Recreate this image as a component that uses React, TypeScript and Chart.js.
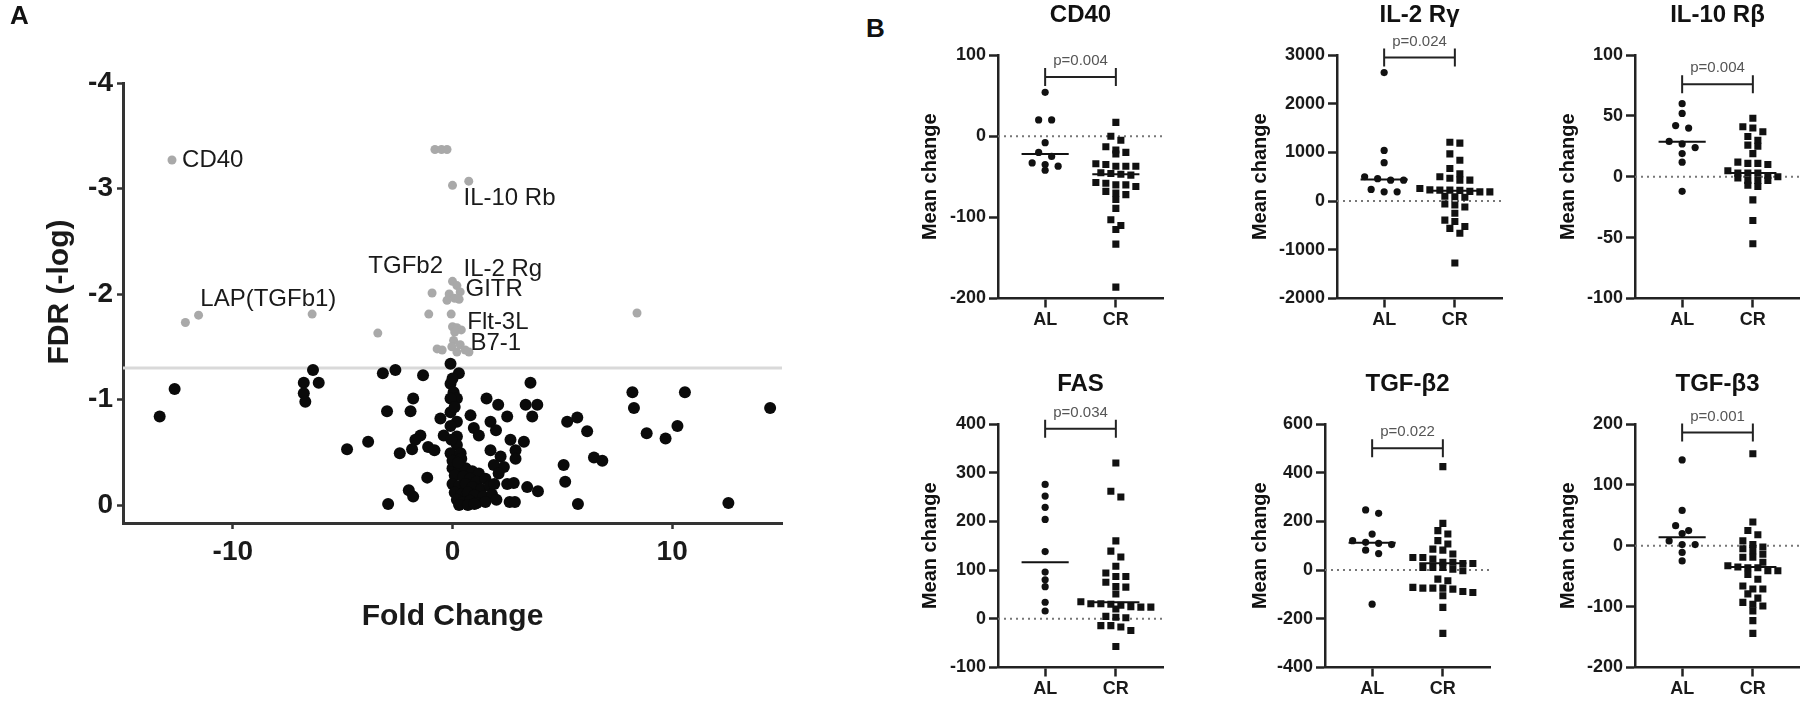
import React, { useEffect, useRef } from 'react';
import { Chart, registerables } from 'chart.js';

Chart.register(...registerables);

const FONT = "'Liberation Sans', Arial, Helvetica, sans-serif";

/* ---------------- Panel A : volcano plot ---------------- */
const foldTicks = [-10, 0, 10];
const fdrTicks = [-4, -3, -2, -1, 0];
const fdrCutoff = -1.3;

// [fold change, log FDR]  (not significant, black)
const nsPoints: [number, number][] = [
  [-13.33, -0.84], [-12.65, -1.1], [-6.35, -1.28], [-6.77, -1.16], [-6.09, -1.16], [-6.77, -1.06], [-6.7, -0.98],
  [-3.17, -1.25], [-2.6, -1.28], [-1.34, -1.23], [-0.09, -1.34], [0.29, -1.25], [-0.09, -1.15], [0.05, -1.07],
  [0.2, -1.01], [-0.09, -1.01], [-1.79, -1.01], [-2.98, -0.89], [-1.91, -0.89], [1.55, -1.01], [2.08, -0.95],
  [3.55, -1.16], [3.33, -0.95], [3.86, -0.95], [3.63, -0.84], [2.49, -0.84], [0.82, -0.85], [-0.55, -0.82],
  [-0.09, -0.88], [0.2, -0.79], [1.73, -0.79], [1.98, -0.71], [0.97, -0.73], [1.2, -0.66], [5.22, -0.79],
  [5.68, -0.83], [-1.46, -0.66], [-1.69, -0.62], [-0.4, -0.66], [-0.09, -0.75], [0.2, -0.65], [0.2, -0.57],
  [-4.8, -0.53], [-3.84, -0.6], [-2.4, -0.49], [-1.84, -0.53], [-1.11, -0.55], [-0.82, -0.52], [-0.09, -0.49],
  [0.37, -0.49], [1.73, -0.52], [2.64, -0.62], [3.25, -0.6], [2.87, -0.52], [2.87, -0.44], [2.19, -0.46],
  [2.34, -0.36], [1.88, -0.38], [5.06, -0.38], [5.13, -0.22], [5.71, -0.01], [-1.15, -0.26], [-1.99, -0.14],
  [-1.79, -0.08], [-2.93, -0.01], [2.49, -0.2], [2.79, -0.21], [2.6, -0.03], [2.84, -0.03], [3.4, -0.17],
  [3.89, -0.13], [8.19, -1.07], [8.26, -0.92], [10.58, -1.07], [14.46, -0.92], [8.84, -0.68], [9.7, -0.63],
  [10.24, -0.75], [6.13, -0.7], [6.44, -0.45], [6.82, -0.42], [12.56, -0.02],
  [0.0, -0.35], [0.3, -0.33], [0.6, -0.35], [0.9, -0.32], [1.2, -0.3], [0.1, -0.28], [0.5, -0.27], [0.8, -0.25],
  [1.1, -0.22], [1.5, -0.25], [0.0, -0.2], [0.3, -0.18], [0.6, -0.2], [0.9, -0.17], [1.3, -0.15], [1.7, -0.18],
  [0.1, -0.12], [0.4, -0.1], [0.7, -0.12], [1.0, -0.09], [1.4, -0.08], [1.8, -0.1], [0.2, -0.05], [0.5, -0.03],
  [0.8, -0.04], [1.1, -0.02], [1.5, -0.03], [0.3, 0.0], [0.7, 0.0], [1.0, -0.01], [2.0, -0.05], [1.9, -0.2],
  [2.1, -0.3], [0.0, -0.42], [0.4, -0.44], [0.0, -1.2], [0.1, -0.93], [-0.05, -0.62], [0.25, -0.4],
];

// significant (grey)
const sigPoints: [number, number][] = [
  [-12.77, -3.27], [-0.8, -3.37], [-0.5, -3.37], [-0.25, -3.37], [0.0, -3.03], [0.74, -3.07],
  [-12.16, -1.73], [-11.56, -1.8], [-6.39, -1.81], [-3.4, -1.63], [-0.93, -2.01], [-1.08, -1.81], [-0.06, -1.81],
  [0.0, -2.12], [0.2, -2.08], [-0.15, -2.0], [0.35, -2.02], [-0.25, -1.94], [0.1, -1.96], [0.3, -1.95],
  [0.0, -1.69], [0.2, -1.68], [0.4, -1.66], [0.1, -1.64],
  [-0.7, -1.48], [-0.47, -1.47], [0.05, -1.56], [0.35, -1.52], [0.58, -1.47], [-0.03, -1.5], [0.2, -1.45],
  [0.75, -1.45], [8.4, -1.82],
];

const geneLabels = ['CD40', 'IL-10 Rb', 'TGFb2', 'IL-2 Rg', 'GITR', 'LAP(TGFb1)', 'Flt-3L', 'B7-1'];
const geneLabelAt: [number, number][] = [
  [-12.31, -3.27], [0.5, -2.91], [-3.83, -2.26], [0.5, -2.23], [0.59, -2.04], [-11.48, -1.95], [0.67, -1.73], [0.82, -1.53],
];

/* ---------------- Panel B : dot plots ---------------- */
const groups = ['AL', 'CR'];
const groupPos = [1, 2.5];
const panelTitles = ['CD40', 'IL-2 R\u03b3', 'IL-10 R\u03b2', 'FAS', 'TGF-\u03b22', 'TGF-\u03b23'];
const pLabels = ['p=0.004', 'p=0.024', 'p=0.004', 'p=0.034', 'p=0.022', 'p=0.001'];
const bracketLevels = [73, 2950, 76, 390, 500, 186];
const yRanges: [number, number][] = [[-200, 100], [-2000, 3000], [-100, 100], [-100, 400], [-400, 600], [-200, 200]];
const yTickSets = [
  [-200, -100, 0, 100],
  [-2000, -1000, 0, 1000, 2000, 3000],
  [-100, -50, 0, 50, 100],
  [-100, 0, 100, 200, 300, 400],
  [-400, -200, 0, 200, 400, 600],
  [-200, -100, 0, 100, 200],
];

const cd40AL = [54, 20, 20, -8, -20, -25, -33, -35, -37, -42];
const cd40CR = [17, 0, -5, -13, -17, -20, -22, -34, -35, -37, -37, -37, -45, -46, -47, -48, -57, -58, -60, -60, -62, -68, -70, -72, -78, -89, -103, -110, -115, -133, -186];
const il2AL = [2640, 1040, 790, 500, 460, 430, 430, 240, 190, 190];
const il2CR = [1210, 1190, 970, 840, 670, 560, 500, 470, 430, 430, 260, 230, 225, 225, 220, 200, 190, 190, 100, 90, 80, -60, -80, -120, -250, -390, -420, -520, -560, -660, -1270];
const il10AL = [60, 52, 42, 40, 29, 27, 24, 19, 12, -12];
const il10CR = [48, 41, 40, 37, 33, 30, 26, 25, 19, 12, 11, 11, 10, 5, 3, 3, 3, 1, 0, -1, -3, -3, -3, -7, -8, -19, -36, -55];
const fasAL = [276, 252, 229, 204, 138, 96, 80, 66, 34, 16];
const fasCR = [320, 262, 250, 160, 139, 127, 108, 94, 87, 87, 75, 66, 65, 51, 35, 31, 31, 30, 28, 25, 24, 24, 20, 5, 3, 2, -14, -14, -17, -24, -57];
const tgfb2AL = [247, 233, 148, 121, 114, 110, 105, 82, 68, -140];
const tgfb2CR = [425, 192, 162, 148, 121, 107, 86, 82, 66, 52, 52, 45, 32, 32, 27, 27, 11, 11, 11, 4, -3, -37, -44, -71, -74, -74, -74, -78, -88, -92, -105, -153, -260];
const tgfb3AL = [141, 58, 33, 25, 20, 8, 2, 2, -11, -25];
const tgfb3CR = [151, 39, 25, 18, 8, 2, -2, -5, -8, -14, -19, -19, -27, -33, -35, -36, -36, -41, -41, -47, -55, -66, -71, -71, -79, -86, -93, -96, -99, -107, -123, -144];

const alValues = [cd40AL, il2AL, il10AL, fasAL, tgfb2AL, tgfb3AL];
const crValues = [cd40CR, il2CR, il10CR, fasCR, tgfb2CR, tgfb3CR];
const alMedians = [-22, 445, 28.8, 116, 112, 14];
const crMedians = [-47, 210, 3, 34, 28, -35];

// page layout of each small panel (plot-area left edge / top, gap of y title)
const frames = [
  { axisX: 998, top: 55, yTitleGap: 68 },
  { axisX: 1337, top: 55, yTitleGap: 77 },
  { axisX: 1635, top: 55, yTitleGap: 67 },
  { axisX: 998, top: 423.5, yTitleGap: 68 },
  { axisX: 1325, top: 423.5, yTitleGap: 65 },
  { axisX: 1635, top: 423.5, yTitleGap: 67 },
];
const PLOT_W = 165;
const PLOT_H = 243.5;
const X_MAX = 3.5;

// Prism-like horizontal spreading of points that share a row
function spread(values: number[], center: number, yPx: number, xPx: number, gapPx: number, rowPx: number) {
  const order = values.map((_, i) => i).sort((a, b) => values[b] - values[a]);
  const out: { x: number; y: number }[] = [];
  let i = 0;
  while (i < order.length) {
    const row = [order[i]];
    let j = i + 1;
    while (j < order.length && (values[order[i]] - values[order[j]]) * yPx < rowPx) {
      row.push(order[j]);
      j++;
    }
    row.forEach((k, r) => out.push({ x: center + ((r - (row.length - 1) / 2) * gapPx) / xPx, y: values[k] }));
    i = j;
  }
  return out;
}

function Volcano() {
  const ref = useRef<HTMLCanvasElement>(null);
  useEffect(() => {
    const textPlugin = {
      id: 'volcanoText',
      afterDatasetsDraw(chart: any) {
        const { ctx, chartArea: ca, scales } = chart;
        const x = scales.x;
        const y = scales.y;
        ctx.save();
        ctx.fillStyle = '#1a1a1a';
        ctx.textBaseline = 'middle';
        ctx.textAlign = 'left';
        ctx.font = `24px ${FONT}`;
        geneLabels.forEach((t, i) => {
          ctx.fillText(t, x.getPixelForValue(geneLabelAt[i][0]), y.getPixelForValue(geneLabelAt[i][1]));
        });
        ctx.textAlign = 'center';
        ctx.font = `bold 30px ${FONT}`;
        ctx.fillText('Fold Change', (ca.left + ca.right) / 2, ca.bottom + 94);
        ctx.translate(60, ca.top + 209);
        ctx.rotate(-Math.PI / 2);
        ctx.fillText('FDR (-log)', 0, 0);
        ctx.restore();
      },
    };
    const chart = new Chart(ref.current as HTMLCanvasElement, {
      type: 'scatter',
      data: {
        datasets: [
          {
            type: 'line',
            data: [{ x: -15, y: fdrCutoff }, { x: 15, y: fdrCutoff }],
            borderColor: '#d9d9d9',
            borderWidth: 3,
            pointRadius: 0,
            order: 3,
          } as any,
          {
            data: nsPoints.map(([x, y]) => ({ x, y })),
            backgroundColor: '#0a0a0a',
            pointRadius: 6,
            pointBorderWidth: 0,
            order: 2,
          },
          {
            data: sigPoints.map(([x, y]) => ({ x, y })),
            backgroundColor: '#a9a9a9',
            pointRadius: 4.5,
            pointBorderWidth: 0,
            order: 1,
          },
        ],
      },
      options: {
        responsive: false,
        animation: false,
        events: [],
        layout: { padding: { left: 0, top: 83, right: 18, bottom: 58 } },
        plugins: { legend: { display: false }, tooltip: { enabled: false } },
        scales: {
          x: {
            type: 'linear',
            min: -15,
            max: 15,
            afterFit: (s: any) => { s.height = 120; },
            afterBuildTicks: (s: any) => { s.ticks = foldTicks.map((v) => ({ value: v })); },
            grid: { display: true, drawOnChartArea: false, drawTicks: true, tickLength: 6, tickWidth: 2.5, color: '#333' },
            border: { display: true, color: '#333', width: 3 },
            ticks: {
              font: { family: FONT, size: 28, weight: 'bold' }, color: '#1a1a1a', padding: 6,
              maxRotation: 0, autoSkip: false,
              callback: (v: any) => String(v),
            },
          },
          y: {
            type: 'linear',
            reverse: true,
            min: -4,
            max: 0.17,
            afterFit: (s: any) => { s.width = 123; },
            afterBuildTicks: (s: any) => { s.ticks = fdrTicks.map((v) => ({ value: v })); },
            grid: { display: true, drawOnChartArea: false, drawTicks: true, tickLength: 6, tickWidth: 2.5, color: '#333' },
            border: { display: true, color: '#333', width: 3 },
            ticks: {
              font: { family: FONT, size: 28, weight: 'bold' }, color: '#1a1a1a', padding: 4,
              autoSkip: false,
              callback: (v: any) => String(v),
            },
          },
        },
      } as any,
      plugins: [textPlugin],
    });
    return () => chart.destroy();
  }, []);
  return (
    <canvas
      ref={ref}
      width={800}
      height={701}
      style={{ position: 'absolute', left: 0, top: 0, width: 800, height: 701 }}
    />
  );
}

const CANVAS_W = 290;
const CANVAS_H = 360;
const PAD_LEFT = 50;
const Y_AXIS_W = 60;
const PAD_TOP = 55;
const X_AXIS_H = 40;

function DotPanel({ idx }: { idx: number }) {
  const ref = useRef<HTMLCanvasElement>(null);
  const f = frames[idx];
  useEffect(() => {
    const [yMin, yMax] = yRanges[idx];
    const yPx = PLOT_H / (yMax - yMin);
    const xPx = PLOT_W / X_MAX;
    const alPts = spread(alValues[idx], groupPos[0], yPx, xPx, 13, 6.5);
    const crPts = spread(crValues[idx], groupPos[1], yPx, xPx, 10, 6.5);
    const decor = {
      id: 'decor',
      afterDraw(chart: any) {
        const { ctx, chartArea: ca, scales } = chart;
        const x = scales.x;
        const y = scales.y;
        ctx.save();
        ctx.fillStyle = '#111';
        ctx.textAlign = 'center';
        ctx.textBaseline = 'middle';
        ctx.font = `bold 24px ${FONT}`;
        ctx.fillText(panelTitles[idx], (ca.left + ca.right) / 2, ca.top - 40);
        ctx.save();
        ctx.translate(ca.left - f.yTitleGap, (ca.top + ca.bottom) / 2);
        ctx.rotate(-Math.PI / 2);
        ctx.font = `bold 20px ${FONT}`;
        ctx.fillText('Mean change', 0, 0);
        ctx.restore();
        const x1 = x.getPixelForValue(groupPos[0]);
        const x2 = x.getPixelForValue(groupPos[1]);
        const by = y.getPixelForValue(bracketLevels[idx]);
        ctx.strokeStyle = '#222';
        ctx.lineWidth = 2;
        ctx.beginPath();
        ctx.moveTo(x1, by - 9);
        ctx.lineTo(x1, by + 9);
        ctx.moveTo(x2, by - 9);
        ctx.lineTo(x2, by + 9);
        ctx.moveTo(x1, by);
        ctx.lineTo(x2, by);
        ctx.stroke();
        ctx.font = `15px ${FONT}`;
        ctx.fillStyle = '#555';
        ctx.fillText(pLabels[idx], (x1 + x2) / 2, by - 16);
        ctx.restore();
      },
    };
    const chart = new Chart(ref.current as HTMLCanvasElement, {
      type: 'scatter',
      data: {
        datasets: [
          {
            type: 'line',
            data: [{ x: 0, y: 0 }, { x: X_MAX, y: 0 }],
            borderColor: '#777',
            borderWidth: 2,
            borderDash: [2, 4],
            pointRadius: 0,
            order: 5,
          } as any,
          {
            data: alPts,
            backgroundColor: '#111',
            pointStyle: 'circle',
            pointRadius: 3.6,
            pointBorderWidth: 0,
            order: 3,
          },
          {
            data: crPts,
            backgroundColor: '#111',
            pointStyle: 'rect',
            pointRadius: 5,
            pointBorderWidth: 0,
            order: 3,
          },
          {
            type: 'line',
            data: [{ x: groupPos[0] - 0.5, y: alMedians[idx] }, { x: groupPos[0] + 0.5, y: alMedians[idx] }],
            borderColor: '#111',
            borderWidth: 2,
            pointRadius: 0,
            order: 1,
          } as any,
          {
            type: 'line',
            data: [{ x: groupPos[1] - 0.5, y: crMedians[idx] }, { x: groupPos[1] + 0.5, y: crMedians[idx] }],
            borderColor: '#111',
            borderWidth: 2,
            pointRadius: 0,
            order: 1,
          } as any,
        ],
      },
      options: {
        responsive: false,
        animation: false,
        events: [],
        layout: {
          padding: {
            left: PAD_LEFT,
            top: PAD_TOP,
            right: CANVAS_W - PAD_LEFT - Y_AXIS_W - PLOT_W,
            bottom: CANVAS_H - PAD_TOP - PLOT_H - X_AXIS_H,
          },
        },
        plugins: { legend: { display: false }, tooltip: { enabled: false } },
        scales: {
          x: {
            type: 'linear',
            min: 0,
            max: X_MAX,
            afterFit: (s: any) => { s.height = X_AXIS_H; },
            afterBuildTicks: (s: any) => { s.ticks = groupPos.map((v) => ({ value: v })); },
            grid: { display: true, drawOnChartArea: false, drawTicks: true, tickLength: 9, tickWidth: 2.5, color: '#222' },
            border: { display: true, color: '#222', width: 2.5 },
            ticks: {
              font: { family: FONT, size: 18, weight: 'bold' }, color: '#1a1a1a', padding: 2,
              maxRotation: 0, autoSkip: false,
              callback: (v: any) => groups[groupPos.indexOf(Number(v))] ?? '',
            },
          },
          y: {
            type: 'linear',
            min: yMin,
            max: yMax,
            afterFit: (s: any) => { s.width = Y_AXIS_W; },
            afterBuildTicks: (s: any) => { s.ticks = yTickSets[idx].map((v) => ({ value: v })); },
            grid: { display: true, drawOnChartArea: false, drawTicks: true, tickLength: 9, tickWidth: 2.5, color: '#222' },
            border: { display: true, color: '#222', width: 2.5 },
            ticks: {
              font: { family: FONT, size: 18, weight: 'bold' }, color: '#1a1a1a', padding: 3,
              autoSkip: false,
              callback: (v: any) => String(v),
            },
          },
        },
      } as any,
      plugins: [decor],
    });
    return () => chart.destroy();
  }, [idx]);
  return (
    <canvas
      ref={ref}
      width={CANVAS_W}
      height={CANVAS_H}
      style={{
        position: 'absolute',
        left: f.axisX - PAD_LEFT - Y_AXIS_W,
        top: f.top - PAD_TOP,
        width: CANVAS_W,
        height: CANVAS_H,
      }}
    />
  );
}

export default function App() {
  const letter: React.CSSProperties = {
    position: 'absolute',
    fontFamily: FONT,
    fontWeight: 'bold',
    fontSize: 26,
    lineHeight: '30px',
    color: '#111',
  };
  return (
    <div
      style={{
        position: 'fixed',
        left: 0,
        top: 0,
        width: 1800,
        height: 701,
        overflow: 'hidden',
        background: '#fff',
      }}
    >
      <Volcano />
      {panelTitles.map((_, i) => (
        <DotPanel key={i} idx={i} />
      ))}
      <div style={{ ...letter, left: 10, top: 0 }}>A</div>
      <div style={{ ...letter, left: 866, top: 13 }}>B</div>
    </div>
  );
}
